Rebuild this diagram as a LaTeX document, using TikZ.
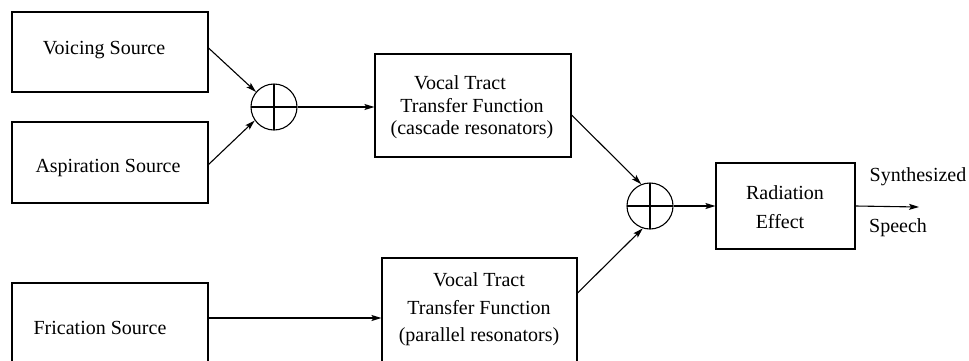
\documentclass[tikz,border=0pt]{standalone}
\usepackage{fontspec}
\setmainfont{Liberation Serif}
\usetikzlibrary{arrows.meta}
\begin{document}
\begin{tikzpicture}[x=0.5pt, y=-0.5pt, line width=0.55pt,
  box/.style={draw, rectangle, inner sep=0pt},
  lbl/.style={inner sep=0pt, align=center, font=\fontsize{10}{12}\selectfont},
  summer/.style={draw, circle, minimum size=23pt, inner sep=0pt,
    path picture={\draw[line width=0.55pt]
      (path picture bounding box.west) -- (path picture bounding box.east)
      (path picture bounding box.north) -- (path picture bounding box.south);}},
  flow/.style={-{Stealth[length=5pt, width=3pt, inset=1pt]}}]
\useasboundingbox (0,0) rectangle (969,360);
\clip (0,0) rectangle (969,360);

% source boxes
\node[box, minimum width=98pt, minimum height=40pt]   (voice) at (110,52)    {};
\node[box, minimum width=98pt, minimum height=40.5pt] (asp)   at (110,162.5) {};
\node[box, minimum width=98pt, minimum height=47pt]   (fric)  at (110,330)   {};
\node[lbl] (voicetxt) at (104,50)  {Voicing Source};
\node[lbl] (asptxt)   at (108,168) {Aspiration Source};
\node[lbl] (frictxt)  at (100,328) {Frication Source};

% summing junctions
\node[summer] (s1) at (274,107) {};
\node[summer] (s2) at (650,206) {};

% vocal tract filters
\node[box, minimum width=98pt, minimum height=51.5pt] (casc) at (473,105.5) {};
\node[lbl, font=\fontsize{10}{11.25}\selectfont] (casctxt) at (472,107.5)
  {Vocal Tract\hspace*{12pt}\\Transfer Function\hspace*{10pt}\\(cascade resonators)};
\node[box, minimum width=97.5pt, minimum height=60pt] (par) at (479.5,318) {};
\node[lbl, font=\fontsize{10}{13.75}\selectfont] (partxt) at (479,309.5)
  {Vocal Tract\\Transfer Function\\(parallel resonators)};

% radiation stage and output
\node[box, minimum width=69.5pt, minimum height=43pt] (rad) at (785.5,206) {};
\node[lbl, font=\fontsize{10}{14.5}\selectfont] (radtxt) at (785,207.5)
  {Radiation\\Effect\hspace*{5pt}};
\coordinate (out) at (919,207);
\node[lbl] (synth)  at (918,177) {Synthesized};
\node[lbl] (speech) at (898,228) {Speech};

% signal flow
\draw[flow] ([yshift=2pt]voice.east) -- (s1.140);
\draw[flow] ([yshift=-1pt]asp.east) -- (s1.215);
\draw[flow] (s1.east) -- (s1.east -| casc.west);
\draw[flow] ([yshift=-4.75pt]casc.east) -- (s2.112);
\draw[flow] (fric.east |- par.west) -- (par.west);
\draw[flow] ([yshift=12.5pt]par.east) -- (s2.252);
\draw[flow] (s2.east) -- (s2.east -| rad.west);
\draw[flow] (rad.east) -- (out);
\end{tikzpicture}
\end{document}
